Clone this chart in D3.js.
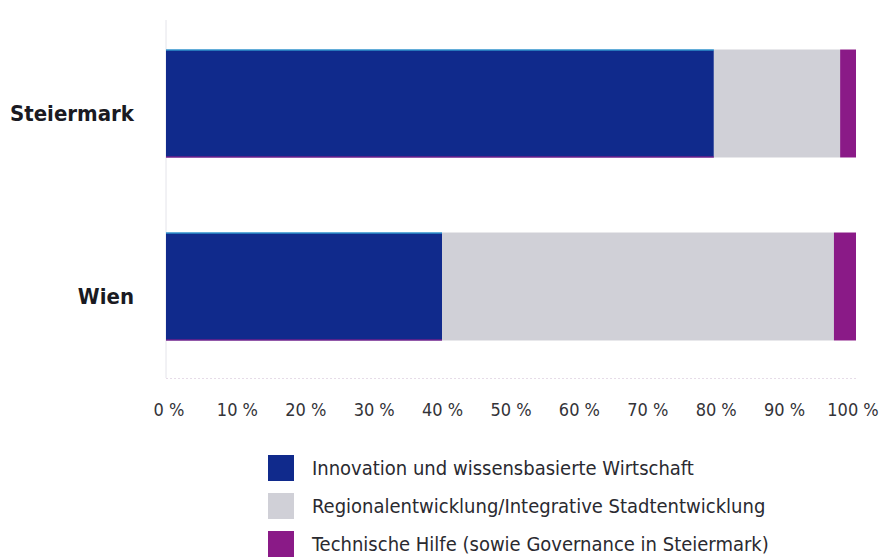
<!DOCTYPE html>
<html>
<head>
<meta charset="utf-8">
<script src="https://cdn.jsdelivr.net/npm/d3@7"></script>
<style>
  body { margin: 0; background: #fff; }
  svg { display: block; }
  .cat-label { font-family: "DejaVu Sans Condensed", "DejaVu Sans", sans-serif; font-weight: 700; font-size: 22px; fill: #1a1a22; }
  .tick-label { font-family: "DejaVu Sans Condensed", "DejaVu Sans", sans-serif; font-size: 18px; fill: #333338; }
  .legend-label { font-family: "DejaVu Sans Condensed", "DejaVu Sans", sans-serif; font-size: 20px; fill: #2a2a30; }
</style>
</head>
<body>
<div id="chart"></div>
<script>
const regions = ['Steiermark', 'Wien'];
const seriesNames = [
  'Innovation und wissensbasierte Wirtschaft',
  'Regionalentwicklung/Integrative Stadtentwicklung',
  'Technische Hilfe (sowie Governance in Steiermark)'
];
const innovation = [79.4, 40.0];
const regional = [18.3, 56.8];
const technical = [2.3, 3.2];
const ticks = [0, 10, 20, 30, 40, 50, 60, 70, 80, 90, 100];
const colors = ['#102a8c', '#d0d0d7', '#8a1a87'];

const width = 882, height = 558;
const x0 = 166, x1 = 856;

const svg = d3.select('#chart').append('svg')
  .attr('width', width)
  .attr('height', height);

const x = d3.scaleLinear().domain([0, 100]).range([x0, x1]);
// tick labels sit a little inside the bar extent in the original
const xLabel = d3.scaleLinear().domain([0, 100]).range([169, 853]);
const y = d3.scaleBand().domain(regions).range([12, 378])
  .paddingInner(0.41).paddingOuter(0.205);

// stacked data
const rows = regions.map((r, i) => ({ region: r, innovation: innovation[i], regional: regional[i], technical: technical[i] }));
const keys = ['innovation', 'regional', 'technical'];
const stacked = d3.stack().keys(keys)(rows);

// left axis line and dotted baseline
svg.append('line')
  .attr('x1', x0).attr('x2', x0)
  .attr('y1', 20).attr('y2', 378)
  .attr('stroke', '#e4e4ea').attr('stroke-width', 1);

svg.append('line')
  .attr('x1', x0).attr('x2', x1)
  .attr('y1', 378.5).attr('y2', 378.5)
  .attr('stroke', '#e6dce8').attr('stroke-width', 1)
  .attr('stroke-dasharray', '2,2');

const layers = svg.selectAll('g.layer')
  .data(stacked)
  .join('g')
  .attr('class', 'layer')
  .attr('fill', (d, i) => colors[i]);

layers.selectAll('rect')
  .data(d => d)
  .join('rect')
  .attr('x', d => x(d[0]))
  .attr('y', d => y(d.data.region))
  .attr('width', d => x(d[1]) - x(d[0]))
  .attr('height', y.bandwidth());

// thin print-edge highlights on the blue bars
const blue = stacked[0];
svg.selectAll('line.edge-top')
  .data(blue)
  .join('line')
  .attr('class', 'edge-top')
  .attr('x1', d => x(d[0])).attr('x2', d => x(d[1]))
  .attr('y1', d => y(d.data.region) + 0.5).attr('y2', d => y(d.data.region) + 0.5)
  .attr('stroke', '#3cc4ec').attr('stroke-width', 1.2);

svg.selectAll('line.edge-bottom')
  .data(blue)
  .join('line')
  .attr('class', 'edge-bottom')
  .attr('x1', d => x(d[0])).attr('x2', d => x(d[1]))
  .attr('y1', d => y(d.data.region) + y.bandwidth() - 0.5).attr('y2', d => y(d.data.region) + y.bandwidth() - 0.5)
  .attr('stroke', '#9a1a8a').attr('stroke-width', 1);

// category labels (sit a bit below the bar centre, as in the original)
svg.selectAll('text.cat-label')
  .data(regions)
  .join('text')
  .attr('class', 'cat-label')
  .attr('x', 134)
  .attr('y', d => y(d) + y.bandwidth() / 2 + 17)
  .attr('text-anchor', 'end')
  .text(d => d);

// tick labels
svg.selectAll('text.tick-label')
  .data(ticks)
  .join('text')
  .attr('class', 'tick-label')
  .attr('x', d => xLabel(d))
  .attr('y', 410)
  .attr('dy', '0.35em')
  .attr('text-anchor', 'middle')
  .text(d => d + ' %');

// legend
const legend = svg.selectAll('g.legend')
  .data(seriesNames)
  .join('g')
  .attr('class', 'legend')
  .attr('transform', (d, i) => `translate(268, ${455 + i * 38})`);

legend.append('rect')
  .attr('width', 26).attr('height', 26)
  .attr('fill', (d, i) => colors[i]);

legend.append('text')
  .attr('class', 'legend-label')
  .attr('x', 44)
  .attr('y', 13)
  .attr('dy', '0.35em')
  .text(d => d);
</script>
</body>
</html>
